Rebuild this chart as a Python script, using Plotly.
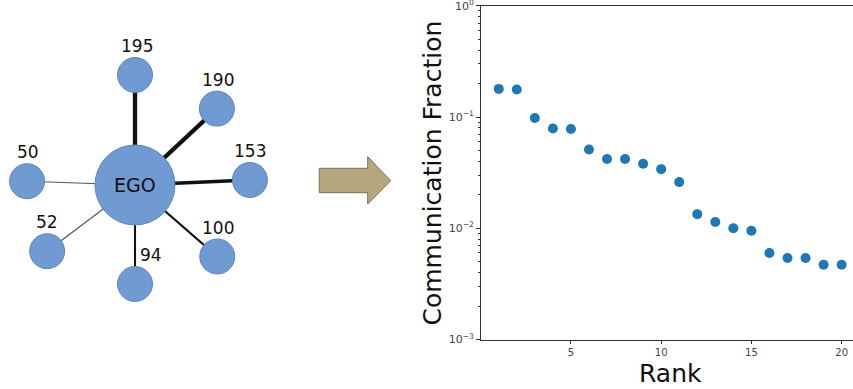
import math
import plotly.graph_objects as go

# ---------------- data ----------------
rank = list(range(1, 21))
comm_fraction = [0.179, 0.177, 0.098, 0.079, 0.078, 0.051, 0.042, 0.042, 0.038, 0.034,
                 0.026, 0.0134, 0.0114, 0.0100, 0.0095, 0.0060, 0.0054, 0.0054, 0.0047, 0.0047]
y_tick_vals = [1e-3, 1e-2, 1e-1, 1]
y_tick_text = ["10<sup>−3</sup>", "10<sup>−2</sup>", "10<sup>−1</sup>", "10<sup>0</sup>"]
x_tick_vals = [5, 10, 15, 20]
x_tick_text = ["5", "10", "15", "20"]

ego_label = "EGO"
contact_labels = ["195", "190", "153", "100", "94", "52", "50"]
contact_counts = [195, 190, 153, 100, 94, 52, 50]

# ---------------- diagram layout (pixels) ----------------
W, H = 853, 389
ego_xy = (135, 185)
ego_r = 40
node_r = 17.5
node_angle = [90, 43, 2.5, -41, -90, 217, 178]   # degrees, counter-clockwise from east
node_dist = [110, 112, 115, 109, 99, 110, 108]
label_dx = [1.5, 0.7, 0, 0.7, 15.7, 0, 0.6]
label_dy = -29

NODE_FILL = "#6f9bd2"
NODE_LINE = "#5d86bd"

fig = go.Figure()

fig.add_trace(go.Scatter(
    x=rank, y=comm_fraction, mode="markers",
    marker=dict(size=10, color="#1f77b4", line=dict(width=0)),
    xaxis="x", yaxis="y", showlegend=False, hoverinfo="x+y"))

# invisible helper trace for pixel axes
fig.add_trace(go.Scatter(x=[0], y=[0], mode="markers", marker=dict(size=1, opacity=0),
                         xaxis="x2", yaxis="y2", showlegend=False, hoverinfo="skip"))

shapes = []
annotations = []
node_xy = []
for ang, d in zip(node_angle, node_dist):
    a = math.radians(ang)
    node_xy.append((ego_xy[0] + d * math.cos(a), ego_xy[1] - d * math.sin(a)))

# edges
for (nx, ny), c in zip(node_xy, contact_counts):
    shapes.append(dict(type="line", xref="x2", yref="y2",
                       x0=ego_xy[0], y0=ego_xy[1], x1=nx, y1=ny,
                       line=dict(color="#111111" if c >= 90 else "#555555", width=c / 45)))
# nodes
for (nx, ny) in node_xy:
    shapes.append(dict(type="circle", xref="x2", yref="y2",
                       x0=nx - node_r, x1=nx + node_r, y0=ny - node_r, y1=ny + node_r,
                       fillcolor=NODE_FILL, line=dict(color=NODE_LINE, width=1)))
shapes.append(dict(type="circle", xref="x2", yref="y2",
                   x0=ego_xy[0] - ego_r, x1=ego_xy[0] + ego_r,
                   y0=ego_xy[1] - ego_r, y1=ego_xy[1] + ego_r,
                   fillcolor=NODE_FILL, line=dict(color=NODE_LINE, width=1)))
annotations.append(dict(x=ego_xy[0], y=ego_xy[1], xref="x2", yref="y2", text=ego_label,
                        showarrow=False, font=dict(family="DejaVu Sans", size=19, color="#111111")))
for (nx, ny), lab, dx in zip(node_xy, contact_labels, label_dx):
    annotations.append(dict(x=nx + dx, y=ny + label_dy, xref="x2", yref="y2", text=lab,
                            showarrow=False, font=dict(family="DejaVu Sans", size=17, color="#111111")))

# arrow
shapes.append(dict(type="path", xref="x2", yref="y2",
                   path="M319.3,168.3 L367.7,168.3 L367.7,156.7 L390.7,180.7 L367.7,204 L367.7,192.7 L319.3,192.7 Z",
                   fillcolor="#b4a77e", line=dict(color="#7a7058", width=1)))

# axis titles
annotations.append(dict(x=432 / W, y=1 - 172.5 / H, xref="paper", yref="paper",
                        text="Communication Fraction", textangle=-90, showarrow=False,
                        xanchor="center", yanchor="middle",
                        font=dict(family="DejaVu Sans", size=25, color="#111111")))
annotations.append(dict(x=670.7 / W, y=1 - 373 / H, xref="paper", yref="paper",
                        text="Rank", showarrow=False, xanchor="center", yanchor="middle",
                        font=dict(family="DejaVu Sans", size=25, color="#111111")))

minor_vals = [k * 10 ** e for e in (-3, -2, -1) for k in range(2, 10)]

fig.update_layout(
    width=W, height=H,
    margin=dict(l=0, r=0, t=0, b=0, autoexpand=False),
    paper_bgcolor="white", plot_bgcolor="rgba(0,0,0,0)",
    shapes=shapes, annotations=annotations,
    xaxis=dict(domain=[480.7 / W, 1], range=[0, 20.63], anchor="y", automargin=False,
               tickvals=x_tick_vals, ticktext=x_tick_text, ticks="outside", ticklen=3.5,
               tickcolor="#333", showline=True, linecolor="#333", linewidth=1, mirror=True,
               showgrid=False, zeroline=False, ticklabeloverflow="allow",
               tickfont=dict(family="DejaVu Sans", size=10, color="#444")),
    yaxis=dict(domain=[1 - 339.6 / H, 1 - 5.7 / H], type="log", range=[-3.001, 0.001], anchor="x",
               automargin=False,
               tickvals=y_tick_vals, ticktext=y_tick_text, ticks="outside", ticklen=3.5,
               tickcolor="#333", showline=True, linecolor="#333", linewidth=1,
               showgrid=False, zeroline=False, ticklabeloverflow="allow",
               minor=dict(tickvals=minor_vals, ticks="outside", ticklen=2, tickcolor="#333", showgrid=False),
               tickfont=dict(family="DejaVu Sans", size=11, color="#444")),
    xaxis2=dict(domain=[0, 1], range=[0, W], anchor="y2", visible=False, fixedrange=True, automargin=False),
    yaxis2=dict(domain=[0, 1], range=[H, 0], anchor="x2", visible=False, fixedrange=True, automargin=False),
)

fig.write_html("out.html")
